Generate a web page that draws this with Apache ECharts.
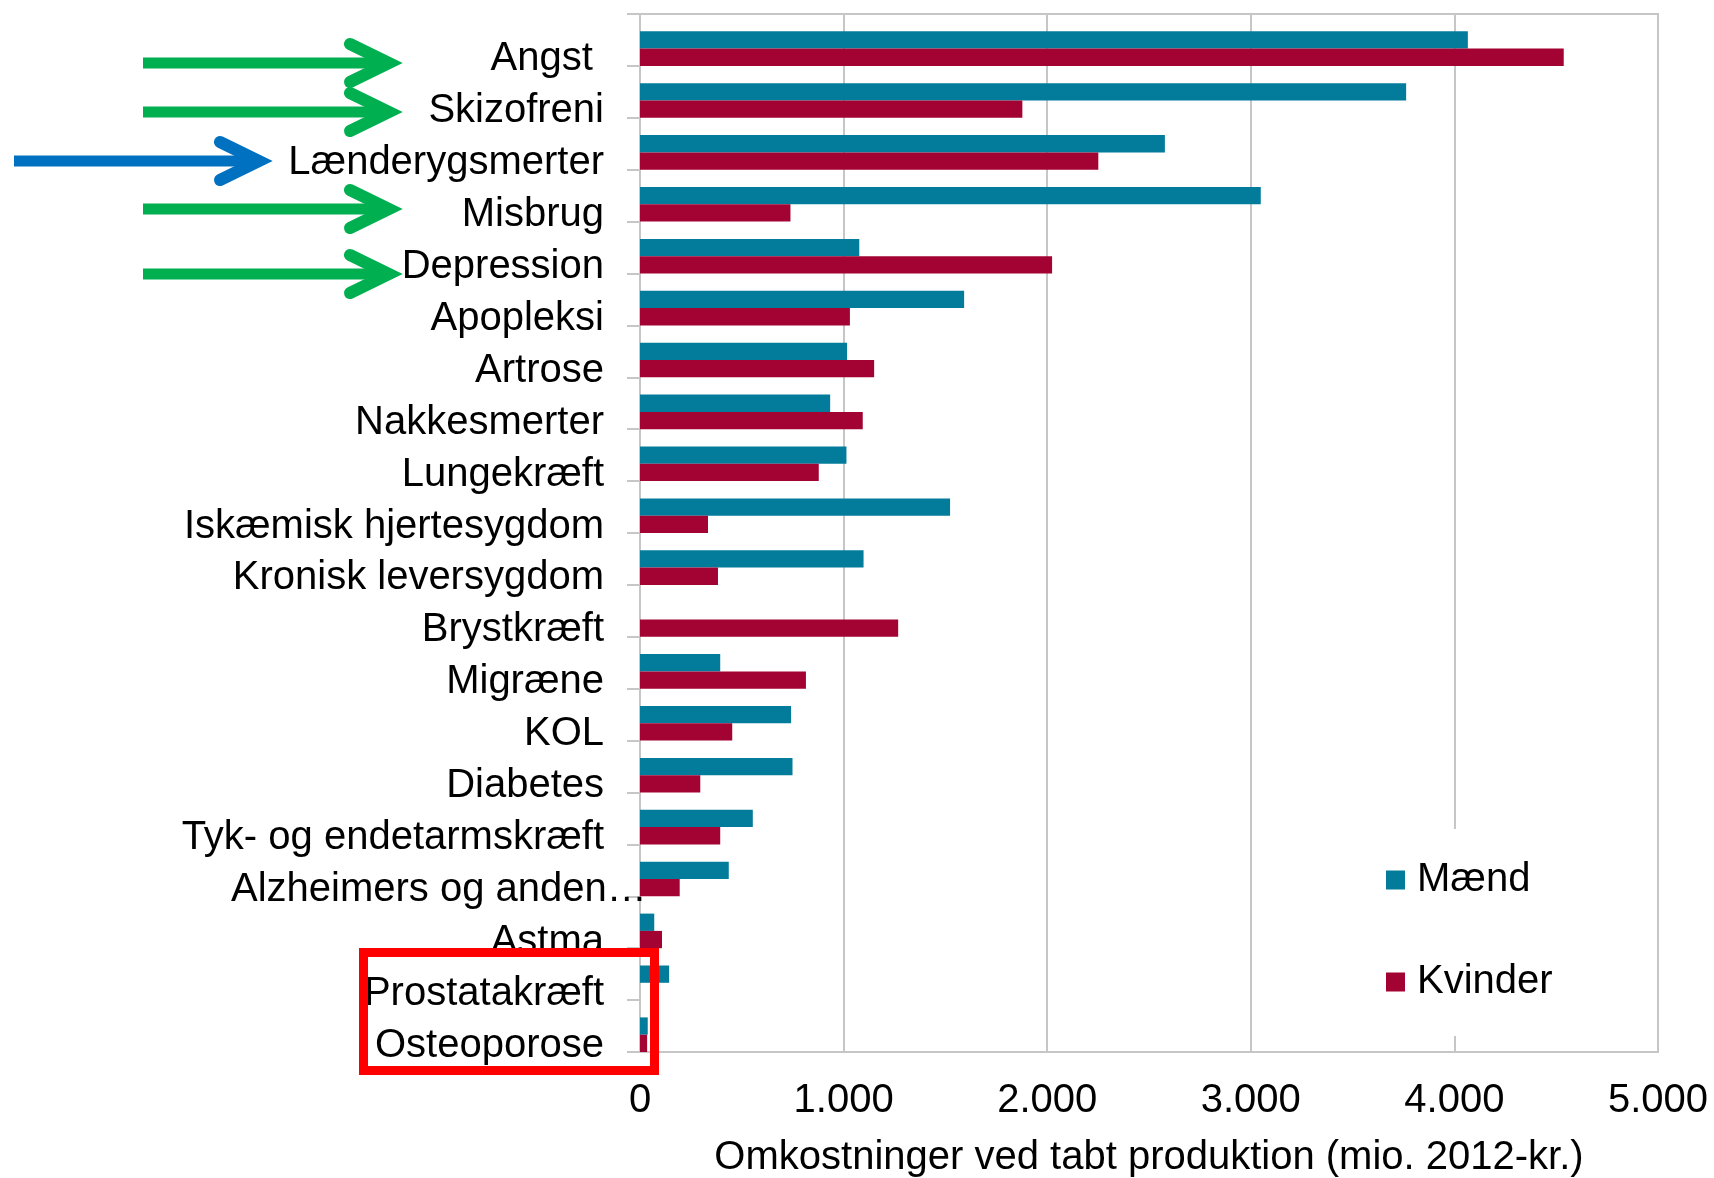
<!DOCTYPE html>
<html>
<head>
<meta charset="utf-8">
<script src="https://cdn.jsdelivr.net/npm/echarts@6/dist/echarts.min.js"></script>
<style>
html,body{margin:0;padding:0;background:#fff;}
#c{width:1714px;height:1178px;}
</style>
</head>
<body>
<div id="c"></div>
<script>
const categories = ['Angst ', 'Skizofreni', 'Lænderygsmerter', 'Misbrug', 'Depression', 'Apopleksi', 'Artrose', 'Nakkesmerter', 'Lungekræft', 'Iskæmisk hjertesygdom', 'Kronisk leversygdom', 'Brystkræft', 'Migræne', 'KOL', 'Diabetes', 'Tyk- og endetarmskræft', 'Alzheimers og anden…', 'Astma', 'Prostatakræft', 'Osteoporose'];
const maend = [4066, 3763, 2578, 3049, 1077, 1592, 1017, 934, 1014, 1523, 1098, null, 394, 742, 749, 554, 436, 70, 143, 38];
const kvinder = [4537, 1878, 2251, 739, 2024, 1031, 1150, 1094, 878, 334, 383, 1268, 815, 453, 296, 394, 195, 108, null, 35];
const seriesNames = ['Mænd', 'Kvinder'];
const xTickLabels = ['0', '1.000', '2.000', '3.000', '4.000', '5.000'];
const axisTitle = 'Omkostninger ved tabt produktion (mio. 2012-kr.)';

const FONT = '"Liberation Sans", Arial, sans-serif';
const TEAL = '#037b9b';
const CRIMSON = '#a30333';
const GREEN = '#00b050';
const BLUE = '#0070c0';
const GRIDC = '#c6c6c6';

function arrow(x0, x1, y, color) {
  return {
    type: 'group',
    children: [
      { type: 'line', shape: { x1: x0, y1: y, x2: x1, y2: y },
        style: { stroke: color, lineWidth: 11, lineCap: 'butt' } },
      { type: 'polyline', shape: { points: [[x1 - 39, y - 19], [x1, y], [x1 - 39, y + 19]] },
        style: { stroke: color, lineWidth: 12, lineCap: 'round', lineJoin: 'miter', fill: null } }
    ]
  };
}

const chart = echarts.init(document.getElementById('c'), null, { renderer: 'canvas' });
chart.setOption({
  animation: false,
  backgroundColor: '#ffffff',
  textStyle: { fontFamily: FONT },
  grid: { left: 640, right: 56, top: 14, bottom: 126, containLabel: false, outerBoundsMode: 'none',
          show: true, borderColor: GRIDC, borderWidth: 2, backgroundColor: 'transparent' },
  legend: {
    data: seriesNames,
    orient: 'vertical',
    left: 1376, top: 829,
    padding: [31, 10, 34, 10],
    itemGap: 62,
    itemWidth: 19, itemHeight: 19,
    icon: 'rect',
    backgroundColor: '#ffffff',
    textStyle: { fontFamily: FONT, fontSize: 40, color: '#000', padding: [0, 0, 0, 7] }
  },
  xAxis: {
    type: 'value',
    min: 0, max: 5000, interval: 1000,
    axisLine: { show: false },
    axisTick: { show: false },
    splitLine: { show: true, lineStyle: { color: GRIDC, width: 2 } },
    axisLabel: {
      margin: 29, fontSize: 40, color: '#000', fontFamily: FONT,
      formatter: function (v) { return xTickLabels[Math.round(v / 1000)]; }
    },
    name: axisTitle,
    nameLocation: 'middle',
    nameGap: 86,
    nameTextStyle: { fontSize: 40, color: '#000', fontFamily: FONT }
  },
  yAxis: {
    type: 'category',
    data: categories,
    inverse: true,
    axisLine: { show: true, lineStyle: { color: GRIDC, width: 2 } },
    axisTick: { show: true, length: 13, lineStyle: { color: GRIDC, width: 2 } },
    axisLabel: {
      interval: 0, margin: 36, fontSize: 40, color: '#000', fontFamily: FONT,
      padding: [39, 0, 0, 0],
      formatter: function (v) { return v === 'Alzheimers og anden…' ? '{alz|' + v + '}' : v; },
      rich: { alz: { fontSize: 40, color: '#000', fontFamily: FONT, width: 373, align: 'left' } }
    }
  },
  series: [
    { name: '_spacer', type: 'bar', data: categories.map(function () { return 0; }),
      itemStyle: { color: 'rgba(0,0,0,0)' }, silent: true, barGap: '0%', barCategoryGap: '0%' },
    { name: seriesNames[0], type: 'bar', data: maend, itemStyle: { color: TEAL },
      barGap: '0%', barCategoryGap: '0%' },
    { name: seriesNames[1], type: 'bar', data: kvinder, itemStyle: { color: CRIMSON },
      barGap: '0%', barCategoryGap: '0%' }
  ],
  graphic: [
    arrow(143, 389, 63, GREEN),
    arrow(143, 389, 112, GREEN),
    arrow(14, 259, 161, BLUE),
    arrow(143, 389, 209, GREEN),
    arrow(143, 389, 274, GREEN),
    { type: 'rect', shape: { x: 363.5, y: 952.5, width: 291, height: 118 },
      style: { stroke: '#ff0000', lineWidth: 9, fill: null }, z: 100 }
  ]
});
</script>
</body>
</html>
